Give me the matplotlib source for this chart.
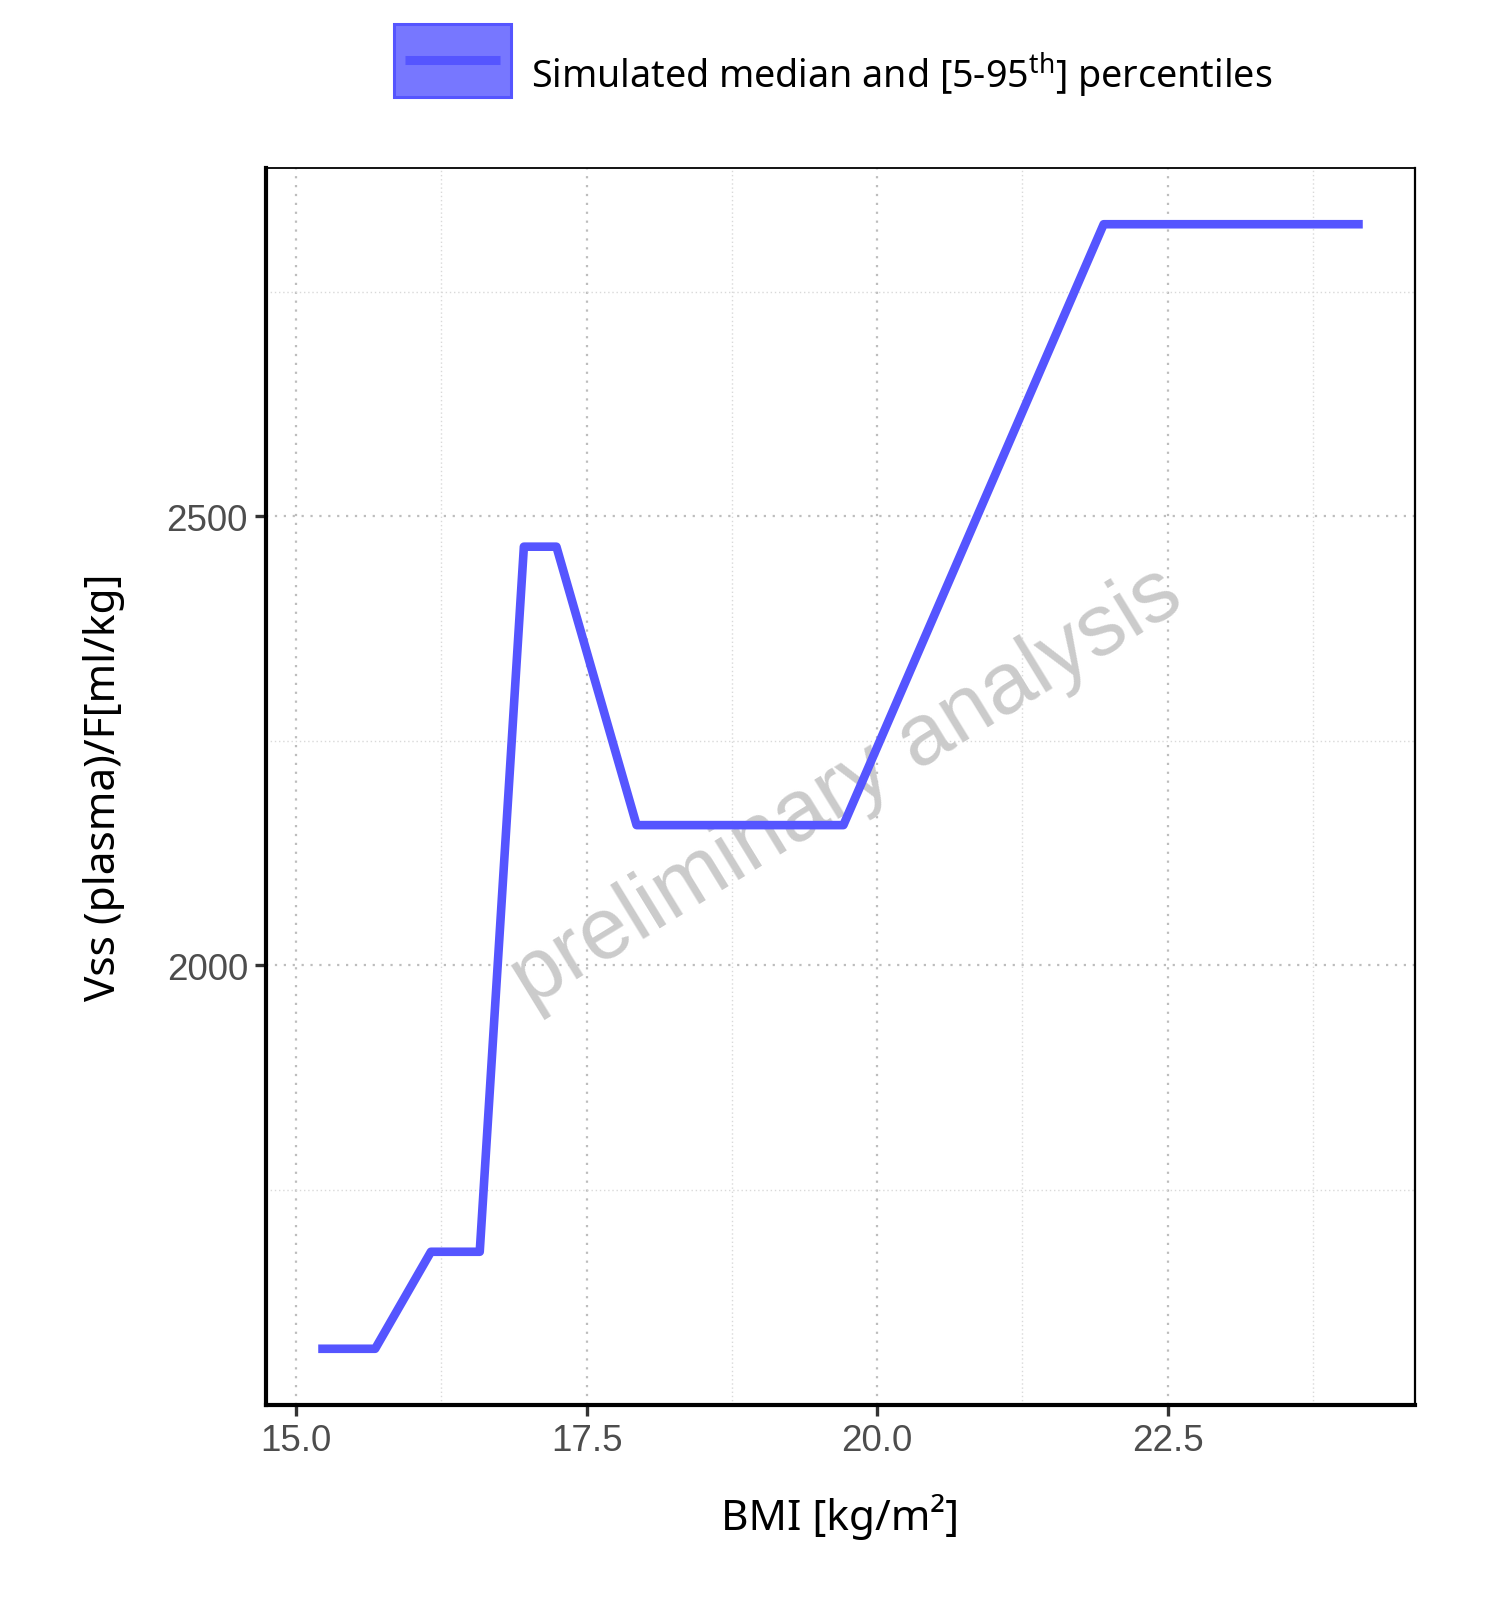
import matplotlib
matplotlib.use("Agg")
import matplotlib.pyplot as plt
from matplotlib.patches import Rectangle
from matplotlib.lines import Line2D
from matplotlib.legend_handler import HandlerBase
from matplotlib.ticker import MultipleLocator, FormatStrFormatter

# median curve
bmi = [15.19, 15.68, 16.16, 16.58, 16.96, 17.24, 17.93, 19.71, 21.95, 24.18]
vss_median = [1573, 1573, 1681, 1681, 2466, 2466, 2156, 2156, 2825, 2825]

legend_label = 'Simulated median and [5-95$^{\\mathrm{th}}$] percentiles'
line_colour = "#5555FF"
fill_colour = "#7777FF"

plt.rcParams['mathtext.fontset'] = 'custom'
plt.rcParams['mathtext.rm'] = 'Noto Sans'


class RibbonKey(HandlerBase):
    # ggplot-like key: filled box with the median line inset, box raised a bit
    def create_artists(self, legend, orig_handle, xdescent, ydescent,
                       width, height, fontsize, trans):
        raise_by = 11
        rect = Rectangle((-xdescent, -ydescent + raise_by), width, height,
                         facecolor=fill_colour, edgecolor=line_colour, lw=2.2,
                         transform=trans)
        inset = 0.093 * width
        ymid = -ydescent + raise_by + height / 2
        ln = Line2D([-xdescent + inset, -xdescent + width - inset], [ymid, ymid],
                    color=line_colour, lw=6.5, solid_capstyle='butt', transform=trans)
        return [rect, ln]


fig = plt.figure(figsize=(15, 16.24), dpi=100)
ax = fig.add_axes([266 / 1500, 1 - 1406 / 1624, 1149 / 1500, 1237 / 1624])

median_line, = ax.plot(bmi, vss_median, color=line_colour, lw=6.2,
                       solid_capstyle='butt', solid_joinstyle='round', zorder=3)
ax.margins(x=0.05, y=0.05)

# grid like ggplot, dotted
ax.xaxis.set_major_locator(MultipleLocator(2.5))
ax.xaxis.set_minor_locator(MultipleLocator(1.25))
ax.yaxis.set_major_locator(MultipleLocator(500))
ax.yaxis.set_minor_locator(MultipleLocator(250))
ax.xaxis.set_major_formatter(FormatStrFormatter('%.1f'))
ax.grid(which='major', color='#BDBDBD', ls=(0, (1, 3)), lw=1.6)
ax.grid(which='minor', color='#D9D9D9', ls=(0, (1, 2)), lw=1.0)
ax.set_axisbelow(True)

ax.tick_params(which='major', length=8, width=2.4, color='#333333',
               labelsize=26.5, labelcolor='#4D4D4D', pad=5)
ax.tick_params(which='minor', length=0)
for lab in ax.get_xticklabels() + ax.get_yticklabels():
    lab.set_family('Liberation Sans')

ax.spines['left'].set_linewidth(3)
ax.spines['bottom'].set_linewidth(3)
ax.spines['top'].set_linewidth(1.3)
ax.spines['right'].set_linewidth(1.6)
for s in ax.spines.values():
    s.set_color('black')

ax.set_xlabel('BMI [kg/m²]', family='Noto Sans', fontsize=30.5, labelpad=25)
ax.set_ylabel('Vss (plasma)/F[ml/kg]', family='Noto Sans', fontsize=30.5, labelpad=30)

# watermark
ax.text(0.505, 0.5, 'preliminary analysis', transform=ax.transAxes, fontsize=63,
        family='Liberation Sans', color='#CBCBCB', rotation=31.5,
        ha='center', va='center', rotation_mode='anchor', zorder=2)

fig.legend([median_line], [legend_label], handler_map={median_line: RibbonKey()},
           loc='center left', bbox_to_anchor=(394 / 1500, 1 - 76.5 / 1624),
           frameon=False, borderpad=0, borderaxespad=0,
           prop={'family': 'Noto Sans', 'size': 27.1},
           handlelength=3.1, handleheight=2.6, handletextpad=0.55)

fig.savefig('out.png', dpi=100)
